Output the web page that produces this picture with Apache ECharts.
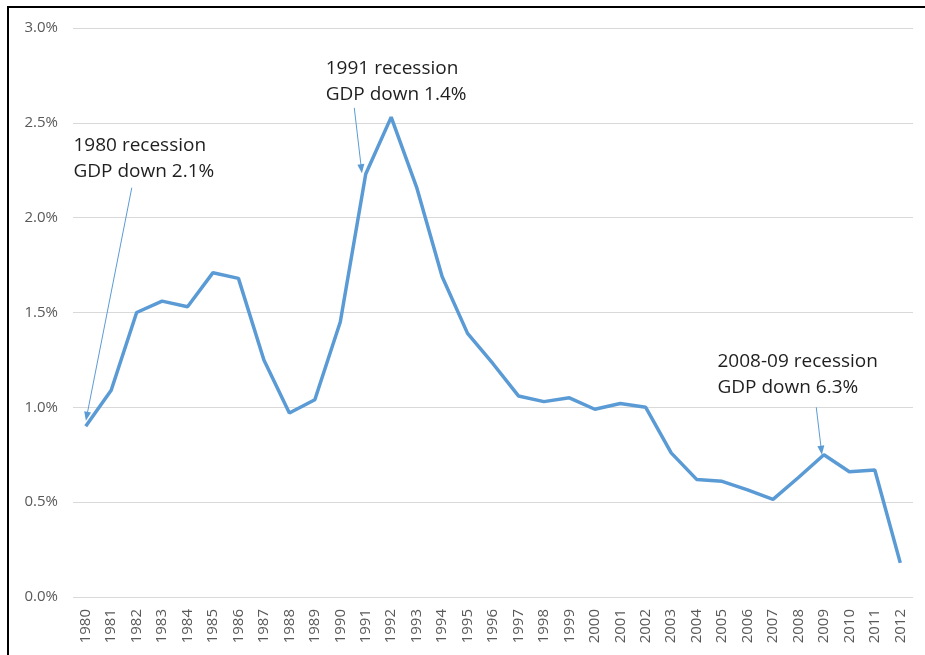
<!DOCTYPE html>
<html>
<head>
<meta charset="utf-8">
<script src="https://cdn.jsdelivr.net/npm/echarts@6/dist/echarts.min.js"></script>
<style>
	html, body { margin: 0; padding: 0; background: #fff; }
	#main { position: absolute; left: 0; top: 0; width: 925px; height: 655px; }
	#frame { position: absolute; left: 7px; top: 6px; width: 940px; height: 680px; border: 2px solid #000; pointer-events: none; }
</style>
</head>
<body>
<div id="main"></div>
<div id="frame"></div>
<script>
	// 年份
	var years = ['1980', '1981', '1982', '1983', '1984', '1985', '1986', '1987', '1988', '1989',
		'1990', '1991', '1992', '1993', '1994', '1995', '1996', '1997', '1998', '1999',
		'2000', '2001', '2002', '2003', '2004', '2005', '2006', '2007', '2008', '2009',
		'2010', '2011', '2012'];
	// 数值 (%)
	var values = [0.90, 1.09, 1.50, 1.56, 1.53, 1.71, 1.68, 1.25, 0.97, 1.04,
		1.45, 2.23, 2.53, 2.16, 1.69, 1.39, 1.23, 1.06, 1.03, 1.05,
		0.99, 1.02, 1.00, 0.76, 0.62, 0.61, 0.565, 0.515, 0.63, 0.75,
		0.66, 0.67, 0.18];
	// y 轴刻度
	var yTicks = [0, 0.5, 1.0, 1.5, 2.0, 2.5, 3.0];

	// 注释: 文字位置 [年份序号, 数值], 箭头 起点 -> 终点
	var noteTexts = ['1980 recession\nGDP down 2.1%', '1991 recession\nGDP down 1.4%', '2008-09 recession\nGDP down 6.3%'];
	var notePos = [[-0.5, 2.31], [9.41, 2.72], [24.8, 1.174]];
	var arrowFrom = [[1.81, 2.158], [10.55, 2.579], [28.70, 1.00]];
	var arrowTo = [[0.04, 0.953], [10.83, 2.258], [28.90, 0.774]];

	var chart = echarts.init(document.getElementById('main'));

	var lineData = [];
	for (var i = 0; i < noteTexts.length; i++) {
		lineData.push([{ coord: arrowFrom[i] }, { coord: arrowTo[i] }]);
	}
	var pointData = [];
	for (var i = 0; i < noteTexts.length; i++) {
		pointData.push({ coord: notePos[i], value: noteTexts[i] });
	}

	var option = {
		animation: false,
		grid: {
			left: 73,
			right: 12,
			top: 28,
			bottom: 58
		},
		xAxis: [{
			type: 'category',
			data: years,
			boundaryGap: true,
			axisLine: { show: false },
			axisTick: { show: false },
			axisLabel: {
				rotate: 90,
				interval: 0,
				margin: 12,
				color: '#595959',
				fontFamily: 'Open Sans',
				fontSize: 15
			}
		}, {
			// 注释用的隐藏数值轴, 与类目中心对齐
			type: 'value',
			min: -0.5,
			max: years.length - 0.5,
			show: false
		}],
		yAxis: {
			type: 'value',
			min: yTicks[0],
			max: yTicks[yTicks.length - 1],
			interval: 0.5,
			axisLine: { show: false },
			axisTick: { show: false },
			splitLine: {
				show: true,
				lineStyle: { color: '#d9d9d9', width: 1 }
			},
			axisLabel: {
				margin: 15,
				color: '#595959',
				fontFamily: 'Open Sans',
				fontSize: 15,
				formatter: function(v) {
					return v.toFixed(1) + '%';
				}
			}
		},
		series: [{
			type: 'line',
			data: values,
			symbol: 'none',
			smooth: false,
			lineStyle: { color: '#5b9bd5', width: 3.5 },
			itemStyle: { color: '#5b9bd5' }
		}, {
			type: 'line',
			xAxisIndex: 1,
			data: [],
			markLine: {
				silent: true,
				symbol: ['none', 'triangle'],
				symbolSize: [7, 9],
				label: { show: false },
				lineStyle: { color: '#5b9bd5', width: 1, type: 'solid' },
				data: lineData
			},
			markPoint: {
				silent: true,
				symbol: 'circle',
				symbolSize: 1,
				itemStyle: { color: 'rgba(0,0,0,0)' },
				label: {
					show: true,
					position: 'right',
					distance: 0,
					align: 'left',
					formatter: '{c}',
					color: '#1f1f1f',
					fontFamily: 'Open Sans',
					fontSize: 19,
					lineHeight: 26
				},
				data: pointData
			}
		}]
	};
	chart.setOption(option);
</script>
</body>
</html>
